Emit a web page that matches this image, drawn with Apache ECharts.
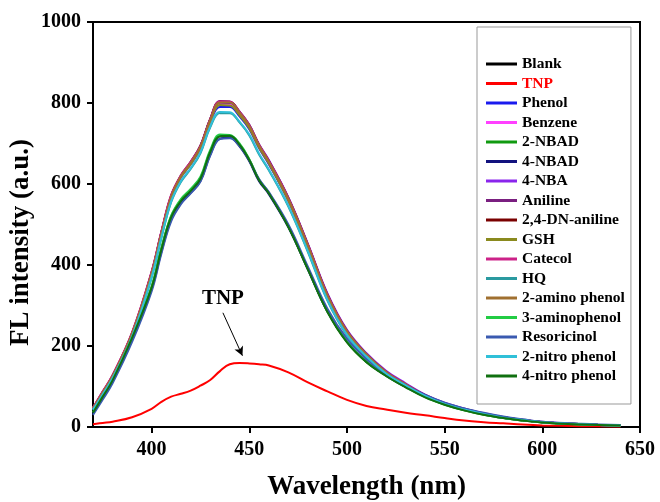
<!DOCTYPE html>
<html>
<head>
<meta charset="utf-8">
<script src="https://cdn.jsdelivr.net/npm/echarts@6/dist/echarts.min.js"></script>
<style>
  html, body { margin: 0; padding: 0; background: #fff; }
  #main { width: 660px; height: 502px; }
</style>
</head>
<body>
<div id="main"></div>
<script>
let myChart = echarts.init(document.getElementById('main'))

// wavelength (nm)
const wavelength = [370, 375, 380, 390, 400, 405, 410, 415, 420, 425, 430, 435, 440, 445, 450, 455, 460, 470, 480, 490, 500, 510, 520, 530, 540, 550, 560, 570, 580, 590, 600, 620, 640]

// FL intensity of each analyte
const blank = [45, 85, 125, 230, 380, 480, 570, 620, 652, 692, 758, 800, 800, 775, 742, 694, 655, 563, 448, 325, 235, 178, 135, 105, 78, 58, 44, 33, 24, 17, 12, 7, 4]
const tnp = [7, 10, 13, 24, 45, 62, 75, 82, 90, 102, 116, 138, 155, 158, 157, 155, 152, 135, 110, 88, 67, 52, 43, 35, 29, 22, 16, 12, 9, 6, 4, 2, 1]
const phenol = [44, 84, 123, 227, 376, 476, 566, 616, 648, 688, 752, 790, 790, 767, 735, 688, 649, 558, 444, 322, 233, 177, 134, 104, 78, 58, 44, 33, 24, 17, 12, 7, 4]
const benzene = [48, 88, 128, 233, 383, 482, 572, 618, 650, 690, 755, 797, 796, 772, 740, 692, 653, 561, 446, 323, 233, 177, 134, 104, 77, 57, 43, 32, 23, 16, 12, 7, 4]
const nbad2 = [36, 76, 116, 221, 345, 440, 520, 560, 585, 615, 680, 718, 718, 698, 660, 610, 578, 495, 390, 285, 210, 160, 128, 100, 75, 56, 41, 30, 22, 16, 11, 6, 4]
const nbad4 = [33, 72, 112, 216, 340, 432, 512, 553, 578, 607, 672, 712, 714, 693, 656, 607, 575, 493, 389, 285, 211, 162, 127, 99, 75, 56, 43, 32, 23, 17, 12, 7, 4]
const nba4 = [44, 84, 124, 228, 378, 478, 568, 618, 652, 694, 760, 802, 801, 778, 746, 698, 659, 567, 452, 330, 240, 182, 139, 108, 80, 60, 46, 34, 25, 18, 13, 7, 4]
const aniline = [46, 86, 127, 232, 382, 481, 571, 621, 655, 695, 761, 805, 804, 779, 746, 697, 658, 566, 451, 328, 238, 180, 137, 106, 79, 59, 45, 33, 24, 17, 12, 7, 4]
const dnAniline = [47, 87, 126, 231, 381, 480, 570, 620, 654, 694, 760, 803, 803, 777, 744, 696, 656, 564, 449, 326, 236, 179, 136, 105, 78, 58, 44, 33, 24, 17, 12, 7, 4]
const gsh = [45, 85, 125, 229, 379, 478, 567, 617, 649, 689, 754, 795, 794, 770, 738, 690, 651, 559, 445, 322, 233, 177, 134, 104, 77, 57, 43, 32, 23, 17, 12, 7, 4]
const catecol = [47, 88, 128, 234, 384, 483, 573, 622, 655, 694, 760, 804, 803, 778, 745, 697, 657, 565, 450, 327, 237, 179, 136, 106, 78, 58, 44, 33, 24, 17, 12, 7, 4]
const hq = [42, 80, 120, 222, 368, 466, 555, 605, 637, 676, 740, 775, 775, 752, 720, 673, 634, 544, 432, 312, 226, 172, 131, 102, 76, 57, 43, 32, 23, 17, 12, 7, 4]
const aminoPhenol2 = [46, 86, 126, 231, 380, 479, 569, 619, 652, 692, 758, 801, 801, 776, 743, 695, 655, 563, 448, 325, 236, 179, 136, 105, 78, 58, 44, 33, 24, 17, 12, 7, 4]
const aminoPhenol3 = [37, 77, 117, 222, 347, 442, 522, 563, 588, 618, 684, 722, 721, 700, 661, 611, 579, 496, 391, 286, 211, 161, 127, 99, 74, 55, 42, 31, 22, 16, 11, 6, 4]
const resoricinol = [30, 68, 108, 210, 335, 428, 508, 550, 577, 606, 670, 711, 713, 694, 658, 612, 580, 500, 396, 292, 218, 168, 131, 103, 79, 60, 46, 35, 26, 19, 13, 8, 5]
const nitroPhenol2 = [43, 81, 121, 224, 370, 468, 557, 607, 639, 678, 742, 778, 777, 754, 722, 675, 636, 546, 434, 314, 228, 174, 132, 103, 77, 57, 43, 32, 23, 17, 12, 7, 4]
const nitroPhenol4 = [35, 75, 115, 220, 344, 438, 518, 558, 583, 613, 679, 718, 719, 697, 659, 609, 577, 494, 389, 284, 209, 160, 126, 98, 73, 55, 41, 30, 22, 16, 11, 6, 4]

const names = ['Blank', 'TNP', 'Phenol', 'Benzene', '2-NBAD', '4-NBAD', '4-NBA', 'Aniline', '2,4-DN-aniline', 'GSH', 'Catecol', 'HQ', '2-amino phenol', '3-aminophenol', 'Resoricinol', '2-nitro phenol', '4-nitro phenol']
const values = [blank, tnp, phenol, benzene, nbad2, nbad4, nba4, aniline, dnAniline, gsh, catecol, hq, aminoPhenol2, aminoPhenol3, resoricinol, nitroPhenol2, nitroPhenol4]
const colors = ['#000000', '#ff0000', '#1a1aee', '#ff40ff', '#109a10', '#12127e', '#8a25ec', '#7a1f80', '#7a0000', '#8a8a1e', '#cc2288', '#2a9aa0', '#a07030', '#22cc44', '#3a5ab0', '#30c0d8', '#107010']

const xTicks = [400, 450, 500, 550, 600, 650]
const font = 'Liberation Serif'

let series = names.map((n, i) => {
  let s = {
    name: n,
    type: 'line',
    data: wavelength.map((w, j) => [w, values[i][j]]),
    smooth: 0.4,
    symbol: 'none',
    lineStyle: { color: colors[i], width: 2 },
    itemStyle: { color: colors[i] }
  }
  if (n === 'TNP') {
    // TNP 标注
    s.markLine = {
      silent: true,
      symbol: ['none', 'arrow'],
      symbolSize: [7, 9],
      label: { show: false },
      lineStyle: { color: '#000', width: 1, type: 'solid' },
      data: [[{ coord: [436.5, 282] }, { coord: [446.5, 176] }]]
    }
    s.markPoint = {
      silent: true,
      symbol: 'circle',
      symbolSize: 0,
      label: {
        show: true, position: 'inside', formatter: 'TNP',
        fontFamily: font, fontWeight: 'bold', fontSize: 21, color: '#000'
      },
      data: [{ coord: [436.5, 318] }]
    }
  }
  return s
})

let opt = {
  animation: false,
  backgroundColor: '#fff',
  color: colors,
  grid: {
    left: 93, right: 20, top: 22, bottom: 75,
    outerBoundsMode: 'none',
    show: true, borderColor: '#000', borderWidth: 2
  },
  legend: {
    orient: 'vertical',
    left: 477, top: 27,
    padding: [29, 6, 20, 9],
    borderColor: '#999', borderWidth: 1,
    itemWidth: 31, itemHeight: 3, itemGap: 3.5, itemTextGap: 4,
    icon: 'rect',
    textStyle: { fontFamily: font, fontWeight: 'bold', fontSize: 15.5, color: '#000' },
    data: names.map(n => n === 'TNP' ? { name: n, textStyle: { color: '#ff0000' } } : { name: n })
  },
  xAxis: {
    type: 'value', min: 370, max: 650,
    name: 'Wavelength (nm)', nameLocation: 'middle', nameGap: 47, nameMoveOverlap: false,
    nameTextStyle: { fontFamily: font, fontWeight: 'bold', fontSize: 27, color: '#000' },
    axisLine: { lineStyle: { color: '#000', width: 2 } },
    axisTick: { inside: false, length: 6, lineStyle: { width: 2 }, customValues: xTicks },
    axisLabel: { fontFamily: font, fontWeight: 'bold', fontSize: 20, color: '#000', margin: 13, customValues: xTicks },
    splitLine: { show: false }
  },
  yAxis: {
    type: 'value', min: 0, max: 1000, interval: 200,
    name: 'FL intensity (a.u.)', nameLocation: 'middle', nameGap: 58, nameMoveOverlap: false,
    nameTextStyle: { fontFamily: font, fontWeight: 'bold', fontSize: 27, color: '#000', padding: [0, 36, 0, 0] },
    axisLine: { show: true, lineStyle: { color: '#000', width: 2 } },
    axisTick: { show: true, inside: false, length: 6, lineStyle: { width: 2 } },
    axisLabel: { fontFamily: font, fontWeight: 'bold', fontSize: 20, color: '#000', margin: 12, formatter: v => String(v) },
    splitLine: { show: false }
  },
  series: series
}

myChart.setOption(opt)
</script>
</body>
</html>
